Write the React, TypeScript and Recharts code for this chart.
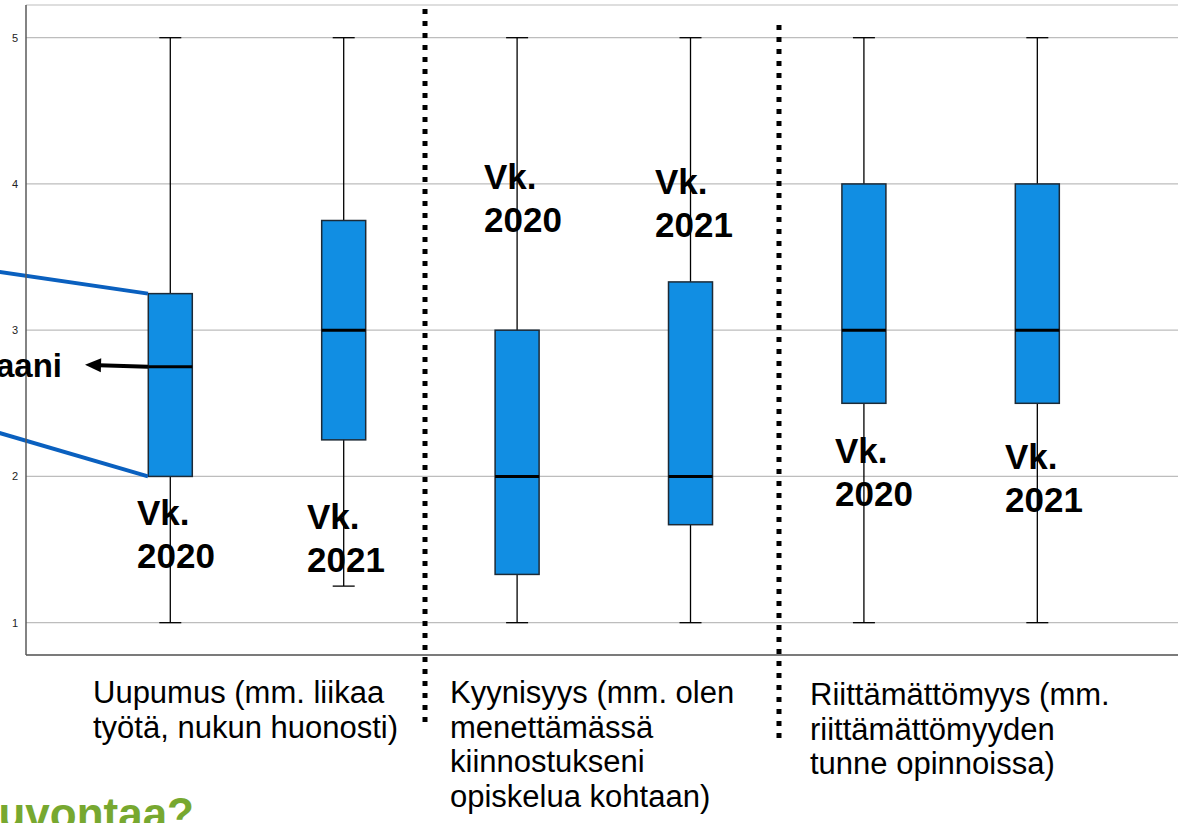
import React from 'react';
import { ComposedChart, Bar, XAxis, YAxis, CartesianGrid, ReferenceLine } from 'recharts';

// ---- data ----
const positions = [0, 1, 2, 3, 4, 5];
const groups = ['Uupumus', 'Uupumus', 'Kyynisyys', 'Kyynisyys', 'Riittämättömyys', 'Riittämättömyys'];
const years = ['2020', '2021', '2020', '2021', '2020', '2021'];
const minVals = [1, 1.25, 1, 1, 1, 1];
const q1Vals = [2, 2.25, 1.33, 1.67, 2.5, 2.5];
const medianVals = [2.75, 3, 2, 2, 3, 3];
const q3Vals = [3.25, 3.75, 3, 3.33, 4, 4];
const maxVals = [5, 5, 5, 5, 5, 5];
const yTicks = [1, 2, 3, 4, 5];

const categoryLabels = [
  ['Uupumus (mm. liikaa', 'työtä, nukun huonosti)'],
  ['Kyynisyys (mm. olen', 'menettämässä', 'kiinnostukseni', 'opiskelua kohtaan)'],
  ['Riittämättömyys (mm.', 'riittämättömyyden', 'tunne opinnoissa)'],
];
const medianLabel = 'Mediaani';
const bottomTitle = 'Tarvitsetko neuvontaa?';

const data = positions.map((x, i) => ({
  x,
  group: groups[i],
  year: years[i],
  min: minVals[i],
  q1: q1Vals[i],
  median: medianVals[i],
  q3: q3Vals[i],
  max: maxVals[i],
  range: [minVals[i], maxVals[i]],
}));

// ---- layout / style ----
const W = 1178;
const H = 823;
const FONT = "'Liberation Sans', Arial, Helvetica, sans-serif";
const BOX_FILL = '#118ee3';
const BOX_HALF = 0.127; // half box width in x units
const vkPos = [
  { left: 137, top: 491 },
  { left: 307, top: 495 },
  { left: 484, top: 155 },
  { left: 655, top: 160 },
  { left: 835, top: 429 },
  { left: 1005, top: 435 },
];
const catPos = [
  { left: 93, top: 676 },
  { left: 450, top: 676 },
  { left: 810, top: 678 },
];

function BoxShape(props: any) {
  const { x, y, width, height, payload } = props;
  if (!payload) return null;
  const top = Math.min(y, y + height);
  const h = Math.abs(height);
  const { min, max, q1, median, q3 } = payload;
  const py = (v: number) => top + (h * (max - v)) / (max - min);
  const cx = x + width / 2;
  const cap = width / 4;
  return (
    <g>
      <line x1={cx} x2={cx} y1={py(max)} y2={py(min)} stroke="#000" strokeWidth={1.3} />
      <line x1={cx - cap} x2={cx + cap} y1={py(max)} y2={py(max)} stroke="#000" strokeWidth={1.3} />
      <line x1={cx - cap} x2={cx + cap} y1={py(min)} y2={py(min)} stroke="#000" strokeWidth={1.3} />
      <rect x={x} y={py(q3)} width={width} height={py(q1) - py(q3)} fill={BOX_FILL} stroke="#1d2a36" strokeWidth={1.5} />
      <line x1={x} x2={x + width} y1={py(median)} y2={py(median)} stroke="#000" strokeWidth={3} />
    </g>
  );
}

function ArrowShape(props: any) {
  const { x1, y1, x2, y2 } = props;
  if ([x1, y1, x2, y2].some((v) => typeof v !== 'number' || isNaN(v))) return null;
  const dx = x2 - x1;
  const dy = y2 - y1;
  const len = Math.sqrt(dx * dx + dy * dy) || 1;
  const ux = dx / len;
  const uy = dy / len;
  const head = 16;
  const hw = 7;
  const bx = x2 - ux * head;
  const by = y2 - uy * head;
  const px = -uy;
  const py = ux;
  return (
    <g>
      <line x1={x1} y1={y1} x2={bx + ux * 2} y2={by + uy * 2} stroke="#000" strokeWidth={4} />
      <polygon
        points={`${x2},${y2} ${bx + px * hw},${by + py * hw} ${bx - px * hw},${by - py * hw}`}
        fill="#000"
      />
    </g>
  );
}

export default function App() {
  return (
    <div
      style={{
        position: 'absolute',
        left: 0,
        top: 0,
        width: W,
        height: H,
        overflow: 'hidden',
        background: '#fff',
        fontFamily: FONT,
      }}
    >
      <ComposedChart width={W} height={H} data={data} margin={{ top: 5, right: 0, bottom: 138, left: 0 }}>
        <CartesianGrid horizontal vertical={false} stroke="#bdbdbd" strokeWidth={1.2} />
        <XAxis
          type="number"
          dataKey="x"
          domain={[-0.8304, 5.813]}
          allowDataOverflow
          tick={false}
          tickLine={false}
          axisLine={{ stroke: '#5a5a5a', strokeWidth: 1.5 }}
          height={30}
        />
        <YAxis
          type="number"
          domain={[0.779, 5.2235]}
          ticks={yTicks}
          interval={0}
          allowDataOverflow
          width={26}
          tickLine={false}
          axisLine={{ stroke: '#5a5a5a', strokeWidth: 1.5 }}
          tick={{ fontSize: 11, fill: '#222', fontFamily: FONT }}
        />
        <Bar dataKey="range" barSize={44} shape={<BoxShape />} isAnimationActive={false} />
        {/* group separators */}
        <ReferenceLine
          segment={[{ x: 1.4706, y: 5.196 }, { x: 1.4706, y: 0.3 }]}
          stroke="#000"
          strokeWidth={5}
          strokeDasharray="5 7"
          ifOverflow="visible"
        />
        <ReferenceLine
          segment={[{ x: 3.512, y: 5.087 }, { x: 3.512, y: 0.2 }]}
          stroke="#000"
          strokeWidth={5}
          strokeDasharray="5 7"
          ifOverflow="visible"
        />
        {/* zoom callout lines to first box */}
        <ReferenceLine
          segment={[{ x: -0.99, y: 3.399 }, { x: positions[0] - BOX_HALF, y: q3Vals[0] }]}
          stroke="#0a60bf"
          strokeWidth={4}
          ifOverflow="visible"
        />
        <ReferenceLine
          segment={[{ x: -0.99, y: 2.299 }, { x: positions[0] - BOX_HALF, y: q1Vals[0] }]}
          stroke="#0a60bf"
          strokeWidth={4}
          ifOverflow="visible"
        />
        {/* median arrow */}
        <ReferenceLine
          segment={[{ x: positions[0] - BOX_HALF, y: medianVals[0] }, { x: -0.49, y: 2.763 }]}
          stroke="#000"
          strokeWidth={4}
          ifOverflow="visible"
          shape={<ArrowShape />}
        />
      </ComposedChart>

      {/* Vk. labels */}
      {years.map((yr, i) => (
        <div
          key={i}
          style={{
            position: 'absolute',
            left: vkPos[i].left,
            top: vkPos[i].top,
            fontSize: 35,
            lineHeight: '43px',
            fontWeight: 'bold',
            color: '#000',
            whiteSpace: 'nowrap',
          }}
        >
          <div>Vk.</div>
          <div>{yr}</div>
        </div>
      ))}

      {/* category labels */}
      {categoryLabels.map((lines, i) => (
        <div
          key={i}
          style={{
            position: 'absolute',
            left: catPos[i].left,
            top: catPos[i].top,
            fontSize: 31,
            lineHeight: '34.7px',
            color: '#000',
            whiteSpace: 'nowrap',
          }}
        >
          {lines.map((l, j) => (
            <div key={j}>{l}</div>
          ))}
        </div>
      ))}

      {/* median label, cut off at the left edge as in the source slide */}
      <div
        style={{
          position: 'absolute',
          right: W - 62,
          top: 346,
          fontSize: 33,
          lineHeight: '40px',
          fontWeight: 'bold',
          color: '#000',
          whiteSpace: 'nowrap',
        }}
      >
        {medianLabel}
      </div>

      {/* slide title, cut off at the bottom-left as in the source slide */}
      <div
        style={{
          position: 'absolute',
          right: W - 194,
          top: 789,
          fontSize: 44,
          lineHeight: '50px',
          fontWeight: 'bold',
          color: '#77a830',
          whiteSpace: 'nowrap',
        }}
      >
        {bottomTitle}
      </div>
    </div>
  );
}
